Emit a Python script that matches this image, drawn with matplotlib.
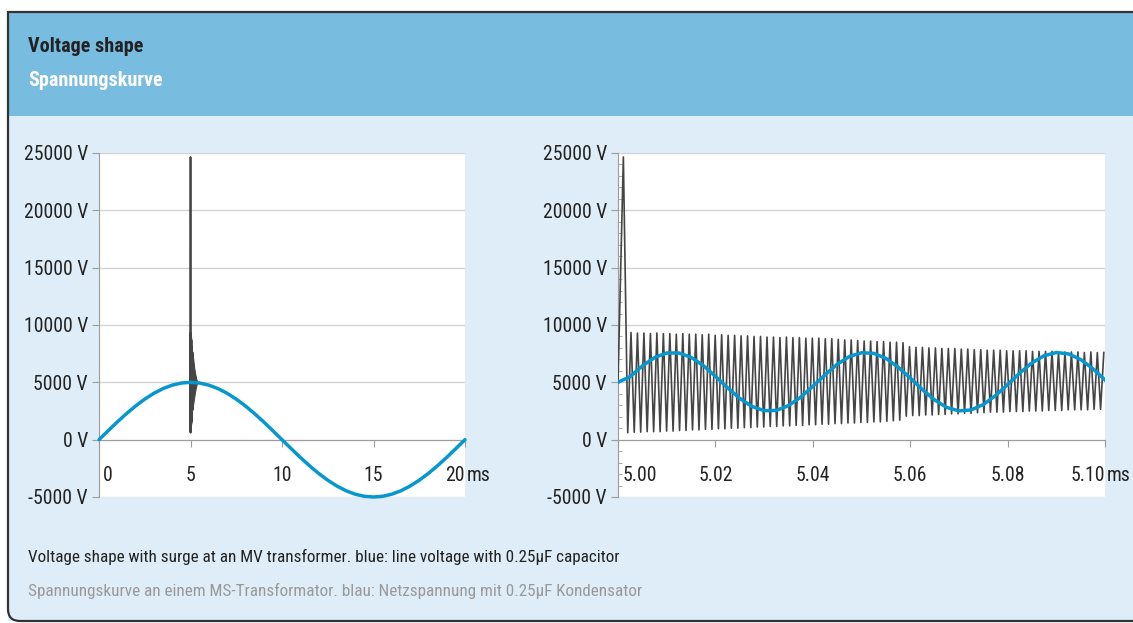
import numpy as np
import matplotlib.pyplot as plt
import matplotlib.transforms as mtransforms
from matplotlib import font_manager
from matplotlib.patches import Rectangle, PathPatch
from matplotlib.path import Path
from matplotlib.ticker import FuncFormatter, MultipleLocator

# schmale Schrift, falls vorhanden
installed = {f.name for f in font_manager.fontManager.ttflist}
narrow = [n for n in ('Liberation Sans Narrow', 'Roboto Condensed', 'Open Sans Condensed')
          if n in installed]
plt.rcParams['font.family'] = narrow[:1] + ['DejaVu Sans']
plt.rcParams['font.stretch'] = 'condensed'

# --- daten ---------------------------------------------------------------
# links: eine Periode Netzspannung (ms, V)
t_line = np.arange(0, 20.5, 0.5)
v_line = [0, 780, 1545, 2270, 2940, 3535, 4045, 4455, 4755, 4940, 5000,
          4940, 4755, 4455, 4045, 3535, 2940, 2270, 1545, 780, 0,
          -780, -1545, -2270, -2940, -3535, -4045, -4455, -4755, -4940, -5000,
          -4940, -4755, -4455, -4045, -3535, -2940, -2270, -1545, -780, 0]

# rechts: Netzspannung mit 0.25uF Kondensator, 5.00 .. 5.10 ms
t_cap = np.linspace(5.0, 5.1, 41)
v_cap = [5000, 5500, 6430, 7160, 7560, 7560, 7180, 6470, 5530, 4530,
         3600, 2900, 2530, 2550, 2970, 3700, 4650, 5650, 6570, 7250,
         7580, 7530, 7090, 6330, 5380, 4370, 3470, 2810, 2510, 2590,
         3060, 3840, 4800, 5810, 6700, 7320, 7600, 7480, 6990, 6190, 5210]

# Stossspannung: Anstieg + Spitze
t_spike = [5.0000, 5.0011]
v_spike = [5000, 24650]

# danach Schwingung, abwechselnd Tal / Spitze
osc_start = 5.0020
osc_half = 0.000665
osc_troughs = [600, 650, 650, 700, 700, 700, 750, 750,
               800, 800, 850, 850, 900, 900, 950, 950,
               1000, 1000, 1050, 1050, 1100, 1100, 1150,
               1150, 1200, 1200, 1250, 1250, 1300, 1300, 1350,
               1350, 1400, 1400, 1450, 1450, 1500, 1500,
               1550, 1550, 1600, 1650, 1700,
               2050, 2100, 2100, 2150, 2150, 2200, 2200, 2250, 2250, 2300,
               2300, 2350, 2350, 2400, 2400, 2400, 2450, 2450,
               2450, 2500, 2500, 2500, 2550, 2550, 2550,
               2600, 2600, 2600, 2600, 2650, 2650]
osc_peaks = [9350, 9300, 9300, 9250, 9300, 9250, 9250, 9200,
             9250, 9200, 9200, 9150, 9200, 9100, 9150, 9100,
             9100, 9050, 9050, 9000, 9000, 8950, 8950,
             8900, 8950, 8900, 8900, 8850, 8850, 8850, 8800,
             8800, 8750, 8700, 8700, 8650, 8600, 8600,
             8550, 8550, 8500, 8500, 8450,
             8100, 8050, 8050, 8000, 8000, 7950, 7950, 7950, 7900, 7900,
             7850, 7850, 7800, 7800, 7800, 7750, 7750, 7750,
             7750, 7700, 7700, 7700, 7700, 7650, 7650,
             7650, 7650, 7600, 7650, 7600, 7600]

# Abklingen nach 5.1 ms (nur links sichtbar, als Huellkurve)
t_tail = [5.10, 5.15, 5.20, 5.25, 5.30, 5.35]
tail_upper = [7650, 7000, 6300, 5800, 5400, 5100]
tail_lower = [2600, 3150, 3700, 4200, 4600, 4900]

ticks_left = [0, 5, 10, 15, 20]
ticks_right = [5.00, 5.02, 5.04, 5.06, 5.08, 5.10]
labels_left = ['0', '5', '10', '15', '20']
labels_right = ['5.00', '5.02', '5.04', '5.06', '5.08', '5.10']

# Schwingung zusammensetzen
osc_vals = np.column_stack([osc_troughs, osc_peaks]).ravel()
osc_t = osc_start + osc_half * np.arange(len(osc_vals))
t_surge = np.concatenate([t_spike, osc_t])
v_surge = np.concatenate([v_spike, osc_vals])

BLUE = '#0797cf'
DARK = '#454545'
AXIS = '#9c9c9c'
GRID = '#d2d2d2'
FS = 14.2

W, H = 1133, 623
fig = plt.figure(figsize=(W / 100, H / 100), dpi=100)
fig.patch.set_facecolor('white')

# Rahmen, Kopf, Hintergrund (Pixelkoordinaten)
x0, top, bot, r = 8, H - 12, 2, 12
body = Rectangle((x0, bot), W + 20, top - bot, transform=None,
                 facecolor='#deedf7', edgecolor='none', zorder=-3)
head = Rectangle((x0, H - 116), W + 20, 104, transform=None,
                 facecolor='#78bde0', edgecolor='none', zorder=-2)
verts = [(W + 20, top), (x0, top), (x0, bot + r), (x0, bot), (x0 + r, bot), (W + 20, bot)]
codes = [Path.MOVETO, Path.LINETO, Path.LINETO, Path.CURVE3, Path.CURVE3, Path.LINETO]
frame = PathPatch(Path(verts, codes), transform=None, facecolor='none',
                  edgecolor='#333333', lw=1.6, zorder=5)
for p in (body, head, frame):
    fig.patches.append(p)

fig.text(28 / W, 1 - 47 / H, 'Voltage shape', fontsize=14.5, fontweight='bold',
         color='#222222', va='center')
fig.text(28 / W, 1 - 80 / H, 'Spannungskurve', fontsize=14.5, fontweight='bold',
         color='white', va='center')
fig.text(28 / W, 1 - 557 / H,
         'Voltage shape with surge at an MV transformer. blue: line voltage with 0.25µF capacitor',
         fontsize=12.3, color='#222222', va='center')
fig.text(28 / W, 1 - 591 / H,
         'Spannungskurve an einem MS-Transformator. blau: Netzspannung mit 0.25µF Kondensator',
         fontsize=12.3, color='#999999', va='center')


def style(ax, xlim, ticks, labels, minor):
    ax.set_facecolor('white')
    ax.set_xlim(*xlim)
    ax.set_ylim(-5000, 25000)
    ax.set_yticks(range(-5000, 25001, 5000))
    ax.yaxis.set_major_formatter(FuncFormatter(lambda v, p: f"{int(v)} V"))
    if minor:
        ax.yaxis.set_minor_locator(MultipleLocator(1000))
        ax.tick_params(axis='y', which='minor', direction='in', length=3, color=AXIS)
    ax.grid(axis='y', color=GRID, lw=1)
    ax.set_axisbelow(True)
    for s in ('top', 'right'):
        ax.spines[s].set_visible(False)
    ax.spines['bottom'].set_position(('data', 0))
    ax.spines['bottom'].set_color(AXIS)
    ax.spines['left'].set_color(AXIS)
    ax.tick_params(axis='y', which='major', length=5, color=AXIS, pad=3,
                   labelsize=FS, labelcolor='#222222')
    ax.tick_params(axis='x', length=5, color=AXIS, pad=14,
                   labelsize=FS, labelcolor='#222222')
    ax.set_xticks(ticks)
    ax.set_xticklabels(labels)
    tl = ax.get_xticklabels()
    tl[0].set_ha('left')
    tl[0].set_transform(tl[0].get_transform() +
                        mtransforms.ScaledTranslation(3 / 72, 0, fig.dpi_scale_trans))
    tl[-1].set_ha('right')
    ax.annotate('ms', xy=(1, 0), xycoords=('axes fraction', 'data'),
                xytext=(1, -19), textcoords='offset points', va='top', ha='left',
                fontsize=FS, color='#222222', annotation_clip=False)


ax1 = fig.add_axes([99 / W, 1 - 497 / H, 366 / W, 344 / H])
ax2 = fig.add_axes([618 / W, 1 - 497 / H, 487 / W, 344 / H])

ax1.plot(t_surge, v_surge, color=DARK, lw=1.3, zorder=3, clip_on=False)
ax1.fill_between(t_tail, tail_lower, tail_upper, color=DARK, lw=0.8, zorder=3)
ax1.plot(t_line, v_line, color=BLUE, lw=2.5, zorder=4, clip_on=False,
         solid_capstyle='round')
style(ax1, (0, 20), ticks_left, labels_left, minor=False)

ax2.plot(t_surge, v_surge, color=DARK, lw=1.2, zorder=3)
ax2.plot(t_cap, v_cap, color=BLUE, lw=2.5, zorder=4)
style(ax2, (5.0, 5.1), ticks_right, labels_right, minor=True)

fig.savefig('out.png', dpi=100)
